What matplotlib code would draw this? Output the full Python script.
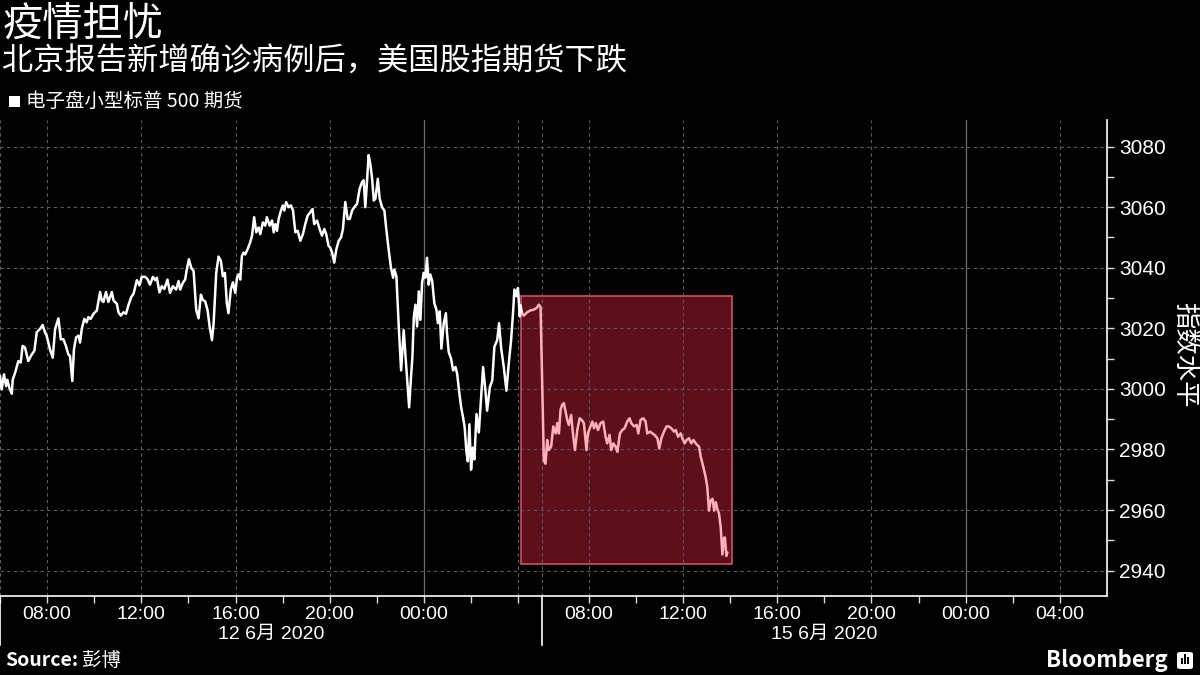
import matplotlib
matplotlib.use('Agg')
import matplotlib.pyplot as plt
import numpy as np
from matplotlib.patches import Rectangle, FancyBboxPatch
from matplotlib.ticker import FixedLocator, MultipleLocator

plt.rcParams['font.family'] = ['Noto Sans CJK SC', 'DejaVu Sans']
num_font = ['Liberation Sans', 'Noto Sans CJK SC', 'DejaVu Sans']

title = '疫情担忧'
subtitle = '北京报告新增确诊病例后，美国股指期货下跌'
series_name = '电子盘小型标普 500 期货'
y_label = '指数水平'
source_label = 'Source:'
source_name = '彭博'
brand = 'Bloomberg'

# Session-compressed time axis (hours): 0 = 12 Jun 06:00, 23 = 15 Jun 06:00 (weekend removed)
hours = [
    0.00, 0.07, 0.17, 0.26, 0.31, 0.40, 0.50, 0.54, 0.64, 0.78, 0.88, 0.96, 1.06, 1.20, 1.35, 1.46,
    1.56, 1.70, 1.81, 1.91, 1.98, 2.12, 2.24, 2.34, 2.48, 2.58, 2.69, 2.80, 2.90, 2.97, 3.07, 3.14,
    3.23, 3.33, 3.40, 3.47, 3.58, 3.68, 3.75, 3.85, 3.97, 4.11, 4.25, 4.32, 4.39, 4.50, 4.60, 4.75,
    4.82, 4.96, 5.03, 5.13, 5.24, 5.35, 5.45, 5.57, 5.67, 5.81, 5.92,
    6.02, 6.16, 6.26, 6.37, 6.49, 6.59, 6.66, 6.77, 6.87, 6.98, 7.11, 7.22, 7.34, 7.48, 7.58, 7.65,
    7.76, 7.86, 7.93, 8.02, 8.12, 8.22, 8.33, 8.43, 8.53, 8.61, 8.71, 8.81, 8.90, 9.00, 9.07, 9.18,
    9.28, 9.38, 9.46, 9.55, 9.63, 9.70, 9.80, 9.89, 9.99, 10.06, 10.13, 10.20, 10.27, 10.34, 10.41,
    10.51, 10.62, 10.70, 10.79, 10.88, 10.98, 11.05, 11.16, 11.26, 11.33, 11.45,
    11.55, 11.62, 11.69, 11.76, 11.83, 11.93, 12.01, 12.07, 12.15, 12.25, 12.35, 12.44, 12.54, 12.64,
    12.75, 12.86, 12.96, 13.06, 13.17, 13.27, 13.34, 13.46, 13.57, 13.67, 13.77, 13.85, 13.95, 14.02,
    14.10, 14.19, 14.28, 14.38, 14.48, 14.56, 14.66, 14.76, 14.85, 14.95, 15.04, 15.16, 15.27, 15.37,
    15.44, 15.51, 15.58, 15.65, 15.72, 15.80, 15.87, 15.94, 16.04, 16.12, 16.22, 16.32, 16.40, 16.50,
    16.60, 16.69,
    16.74, 16.83, 16.93, 17.03, 17.14, 17.21, 17.28, 17.37, 17.45, 17.51, 17.57, 17.64, 17.71, 17.78,
    17.85, 17.92, 17.99, 18.06, 18.13, 18.20, 18.27, 18.35, 18.44, 18.53, 18.59, 18.67, 18.74, 18.84,
    18.93, 18.98, 19.05, 19.15, 19.24, 19.34, 19.41, 19.49, 19.58, 19.66, 19.73, 19.80, 19.86, 19.93,
    20.00, 20.07, 20.14, 20.23, 20.33, 20.40, 20.51, 20.61, 20.68, 20.80, 20.90, 20.99, 21.11, 21.19,
    21.28, 21.39, 21.50, 21.60, 21.70, 21.79, 21.84, 21.93, 21.99, 22.07, 22.10, 22.17,
    22.24, 22.38, 22.52, 22.67, 22.78, 22.88, 22.95,
    23.09, 23.16, 23.23, 23.30, 23.40, 23.49, 23.59, 23.66, 23.73, 23.80, 23.87, 23.94, 24.01, 24.08,
    24.15, 24.25, 24.34, 24.41, 24.51, 24.61, 24.69, 24.79, 24.90, 24.96, 25.07, 25.15, 25.22, 25.30,
    25.39, 25.50, 25.61, 25.71, 25.78, 25.88, 25.95, 26.04, 26.14, 26.21, 26.32, 26.42, 26.52, 26.63,
    26.73, 26.80, 26.92, 27.03, 27.10, 27.20, 27.31, 27.41, 27.48, 27.60, 27.70, 27.79, 27.91, 27.99,
    28.08, 28.19, 28.30, 28.40, 28.50, 28.62, 28.69, 28.79, 28.90, 28.97, 29.07, 29.15, 29.25, 29.35,
    29.44, 29.54, 29.61, 29.68, 29.75, 29.86, 29.96, 30.03, 30.10, 30.17, 30.25, 30.32, 30.39, 30.46,
    30.53, 30.60, 30.67, 30.74, 30.78, 30.84, 30.88,
]
values = [
    3004.2, 2999.8, 3004.8, 3000.9, 3003.0, 3000.3, 2998.4, 3003.0, 3005.3, 3009.2, 3008.7, 3014.2,
    3013.7, 3009.2, 3011.4, 3012.6, 3018.7, 3019.8, 3021.1, 3018.7, 3017.6, 3013.1, 3010.3, 3019.8,
    3023.3, 3016.4, 3016.4, 3014.2, 3011.4, 3010.9, 3002.6, 3013.1, 3017.0, 3017.6, 3015.3, 3019.8,
    3023.1, 3022.0, 3023.7, 3023.1, 3024.8, 3025.9, 3032.0, 3029.2, 3028.7, 3032.0, 3028.7, 3032.0,
    3029.2, 3028.1, 3025.3, 3024.2, 3025.3, 3024.8, 3027.6, 3030.3, 3031.4, 3035.9, 3034.2,
    3037.0, 3037.0, 3036.3, 3034.4, 3037.0, 3035.9, 3036.7, 3031.9, 3033.9, 3033.0, 3036.1, 3031.7,
    3033.9, 3032.8, 3035.6, 3032.8, 3035.0, 3036.1, 3039.4, 3042.8, 3040.0, 3038.9, 3026.1, 3023.3,
    3031.1, 3029.4, 3028.9, 3026.1, 3020.6, 3016.1, 3021.7, 3038.3, 3043.7, 3042.2, 3037.2, 3038.3,
    3028.3, 3025.0, 3032.8, 3035.2, 3031.7, 3036.7, 3037.8, 3036.1, 3043.9, 3045.0, 3044.4, 3046.1,
    3048.3, 3050.6, 3056.7, 3051.7, 3053.3, 3051.1, 3055.0, 3053.9, 3056.7, 3053.9,
    3055.6, 3051.7, 3054.4, 3052.2, 3056.1, 3058.9, 3060.6, 3058.9, 3061.7, 3060.0, 3060.6, 3058.9,
    3051.7, 3052.2, 3048.9, 3051.1, 3054.4, 3057.2, 3058.3, 3059.4, 3054.4, 3055.6, 3052.8, 3050.6,
    3052.8, 3051.1, 3047.2, 3046.7, 3045.0, 3041.7, 3046.1, 3048.9, 3050.0, 3052.8, 3061.7, 3056.1,
    3056.1, 3058.9, 3060.0, 3061.1, 3066.1, 3068.3, 3068.9, 3060.0, 3068.3, 3077.2, 3074.4, 3069.4,
    3062.2, 3062.8, 3069.4, 3062.8, 3060.0, 3058.9, 3052.8, 3046.1, 3040.0, 3036.7,
    3039.4, 3037.2, 3020.6, 3006.1, 3019.4, 3011.7, 3003.9, 2993.9, 3003.9, 3010.6, 3023.9, 3027.8,
    3020.6, 3032.2, 3022.8, 3035.0, 3038.3, 3036.7, 3043.3, 3034.4, 3037.8, 3035.6, 3028.3, 3026.1,
    3021.7, 3025.6, 3013.3, 3021.7, 3025.0, 3018.3, 3012.2, 3010.0, 3006.1, 3007.2, 3005.0, 2999.4,
    2993.9, 2990.6, 2987.2, 2979.4, 2976.1, 2988.3, 2973.3, 2980.6, 2976.7, 2991.7, 2985.6, 2993.9,
    3007.2, 2999.4, 2992.8, 3000.6, 3002.8, 3013.9, 3016.1, 3021.7, 3013.3, 3007.2, 2999.4, 3008.3,
    3016.1, 3026.1, 3032.8, 3030.6, 3033.3, 3023.9, 3027.6, 3024.8,
    3024.2, 3025.3, 3025.9, 3026.2, 3026.7, 3027.8, 3027.0,
    2976.4, 2975.3, 2983.1, 2979.8, 2980.9, 2987.6, 2985.3, 2988.7, 2985.3, 2993.1, 2994.8, 2995.3,
    2992.6, 2989.8, 2988.1, 2991.4, 2984.2, 2979.8, 2986.4, 2990.3, 2989.8, 2988.7, 2979.8, 2985.3,
    2987.6, 2989.2, 2987.0, 2988.7, 2986.4, 2988.7, 2989.2, 2984.2, 2982.0, 2984.8, 2979.8, 2982.0,
    2980.9, 2979.2, 2985.3, 2986.4, 2987.0, 2989.2, 2990.3, 2988.7, 2987.6, 2988.1, 2985.3, 2989.8,
    2990.3, 2989.2, 2985.3, 2985.9, 2985.3, 2984.8, 2983.7, 2980.3, 2983.7, 2985.9, 2987.6, 2987.6,
    2987.0, 2985.9, 2986.4, 2984.2, 2985.3, 2983.7, 2982.0, 2983.1, 2983.7, 2982.0, 2983.1, 2982.0,
    2981.4, 2980.9, 2977.6, 2974.2, 2970.9, 2967.6, 2959.8, 2963.1, 2963.7, 2959.8, 2962.6, 2960.3,
    2958.7, 2954.2, 2945.3, 2950.9, 2950.9, 2944.8, 2945.9,
]

highlight_start, highlight_end = 22.14, 31.07
highlight_low, highlight_high = 2942.2, 3030.7

major_ticks = [2, 6, 10, 14, 18, 25, 29, 33, 37, 41, 45]
major_labels = ['08:00', '12:00', '16:00', '20:00', '00:00',
                '08:00', '12:00', '16:00', '20:00', '00:00', '04:00']
minor_ticks = [0, 4, 8, 12, 16, 20, 22, 27, 31, 35, 39, 43]
dashed_vlines = [0, 2, 6, 10, 14, 22, 23, 25, 29, 33, 37, 45]
midnight_lines = [18, 41]
session_edges = [0, 23]
date_labels = ['12 6月 2020', '15 6月 2020']
date_centers = [11.5, 35.0]
y_ticks = [2940, 2960, 2980, 3000, 3020, 3040, 3060, 3080]

x_range = (0, 47)
y_range = (2931.6, 3088.8)

# ---------------------------------------------------------------
fig = plt.figure(figsize=(12, 6.75), dpi=100, facecolor='black')
ax = fig.add_axes([0.0, 1 - 596 / 675, 1107 / 1200, (596 - 120) / 675])
ax.set_facecolor('black')
ax.set_xlim(*x_range)
ax.set_ylim(*y_range)

h = np.array(hours)
v = np.array(values)

grid_kw = dict(color='#5c5c5c', lw=0.8, ls=(0, (3, 3)), zorder=1)
for yv in y_ticks:
    ax.axhline(yv, **grid_kw)
for xv in dashed_vlines:
    ax.axvline(xv, **grid_kw)
for xv in midnight_lines:
    ax.axvline(xv, color='#6a6a6a', lw=0.9, zorder=1)

ax.add_patch(Rectangle((highlight_start, highlight_low),
                       highlight_end - highlight_start, highlight_high - highlight_low,
                       facecolor='#5e0f1c', edgecolor='#cf4f5f', lw=1.2, zorder=0.5))

idx = int(np.where(h >= highlight_start + 0.03)[0][0])
ax.plot(h[:idx + 1], v[:idx + 1], color='white', lw=1.8, zorder=3, solid_joinstyle='round')
ax.plot(h[idx:], v[idx:], color='#ffb0b8', lw=1.8, zorder=3, solid_joinstyle='round')

for side in ['top', 'left']:
    ax.spines[side].set_visible(False)
for side in ['bottom', 'right']:
    ax.spines[side].set_color('white')
    ax.spines[side].set_linewidth(1.2)

ax.xaxis.set_major_locator(FixedLocator(major_ticks))
ax.set_xticklabels(major_labels, fontfamily=num_font)
ax.xaxis.set_minor_locator(FixedLocator(minor_ticks))
ax.tick_params(axis='x', which='both', colors='#dddddd', labelcolor='white',
               length=5, width=1, labelsize=14, pad=2)

ax.yaxis.tick_right()
ax.set_yticks(y_ticks)
ax.set_yticklabels([str(t) for t in y_ticks], fontfamily=num_font)
ax.yaxis.set_minor_locator(MultipleLocator(10))
ax.tick_params(axis='y', which='both', colors='#dddddd', labelcolor='white',
               length=5, width=1, labelsize=15, pad=4)

xt = ax.get_xaxis_transform()
for c, lab in zip(date_centers, date_labels):
    ax.text(c, -0.08, lab, transform=xt, ha='center', va='center',
            fontsize=14, color='white', fontfamily=num_font)
for e in session_edges:
    ax.plot([e, e], [0, -0.103], transform=xt, clip_on=False, color='white', lw=1.2)

fig.text(1185 / 1200, 1 - 355 / 675, y_label, rotation=270, ha='center', va='center',
         fontsize=19, color='white')

# titles
fig.text(0.002, 1 - 24 / 675, title, fontsize=29, color='white', ha='left', va='center')
fig.text(0.002, 1 - 62 / 675, subtitle, fontsize=22.5, color='white', ha='left', va='center')
fig.patches.append(Rectangle((9 / 1200, 1 - 107 / 675), 11 / 1200, 11 / 675,
                             transform=fig.transFigure, facecolor='white', edgecolor='none'))
fig.text(26 / 1200, 1 - 101 / 675, series_name, fontsize=14, color='white', ha='left', va='center')

# footer
fig.text(5 / 1200, 1 - 661 / 675, source_label, fontsize=14, fontweight='bold',
         color='white', ha='left', va='center')
fig.text(82 / 1200, 1 - 661 / 675, source_name, fontsize=14, color='white', ha='left', va='center')
fig.text(1168 / 1200, 1 - 660 / 675, brand, fontsize=16, fontweight='bold',
         color='white', ha='right', va='center')
fig.patches.append(FancyBboxPatch((1177 / 1200, 1 - 669 / 675), 16 / 1200, 17 / 675,
                                  boxstyle='round,pad=0,rounding_size=0.003',
                                  transform=fig.transFigure, facecolor='white', edgecolor='none'))
for bx, bh in zip([1181, 1184, 1187], [6, 10, 7]):
    fig.patches.append(Rectangle((bx / 1200, 1 - 664 / 675), 1.6 / 1200, bh / 675,
                                 transform=fig.transFigure, facecolor='black', edgecolor='none'))

fig.savefig('out.png', dpi=100, facecolor='black')
